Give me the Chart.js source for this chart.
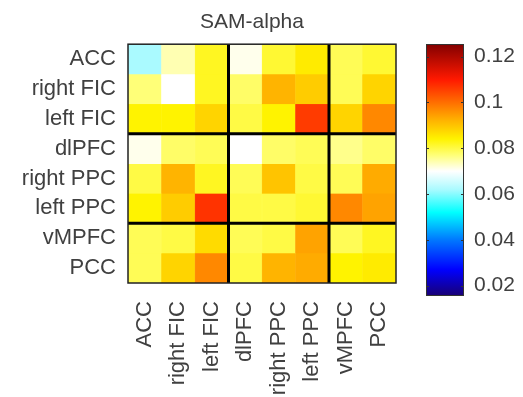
<!DOCTYPE html>
<html>
<head>
<meta charset="utf-8">
<script src="https://cdn.jsdelivr.net/npm/chart.js@4"></script>
<style>
  html, body { margin: 0; padding: 0; background: #fff; }
  #wrap { position: relative; width: 523px; height: 397px; overflow: hidden; }
  #matrixCanvas { position: absolute; left: 0; top: 0; }
  #barCanvas { position: absolute; left: 0; top: 0; }
</style>
</head>
<body>
<div id="wrap">
  <canvas id="matrixCanvas" width="504" height="397"></canvas>
  <canvas id="barCanvas" width="523" height="397"></canvas>
</div>
<script>
// Regions, same order on both axes
const regions = ['ACC', 'right FIC', 'left FIC', 'dlPFC', 'right PPC', 'left PPC', 'vMPFC', 'PCC'];

// SAM-alpha values, one row per region
const samAlpha = [
  [0.062, 0.074, 0.082, 0.071, 0.081, 0.085, 0.079, 0.081],
  [0.077, 0.070, 0.082, 0.078, 0.092, 0.089, 0.079, 0.088],
  [0.084, 0.084, 0.088, 0.080, 0.084, 0.106, 0.088, 0.097],
  [0.071, 0.078, 0.079, 0.070, 0.078, 0.079, 0.076, 0.078],
  [0.080, 0.092, 0.082, 0.079, 0.090, 0.080, 0.079, 0.093],
  [0.084, 0.089, 0.107, 0.080, 0.080, 0.081, 0.097, 0.094],
  [0.079, 0.080, 0.087, 0.079, 0.080, 0.094, 0.079, 0.082],
  [0.079, 0.088, 0.097, 0.080, 0.092, 0.093, 0.084, 0.085],
];

// network boundaries (after these many regions)
const groupEdges = [3, 6];

// colour scale
const colorRange = [0.0155, 0.1255];
const cbTicks = [0.02, 0.04, 0.06, 0.08, 0.1, 0.12];
const cbLabels = ['0.02', '0.04', '0.06', '0.08', '0.1', '0.12'];
const cmapStops = [
  [0.0155, [25, 0, 115]],
  [0.027, [0, 0, 255]],
  [0.040, [0, 120, 255]],
  [0.052, [0, 255, 255]],
  [0.062, [170, 250, 255]],
  [0.070, [255, 255, 255]],
  [0.077, [255, 255, 120]],
  [0.084, [255, 243, 0]],
  [0.092, [255, 180, 0]],
  [0.100, [255, 110, 0]],
  [0.110, [255, 25, 0]],
  [0.1255, [130, 0, 0]],
];

const FONT = "'Liberation Sans', Arial, sans-serif";
const TEXT = '#404040';

function cmap(v) {
  if (v <= cmapStops[0][0]) return rgb(cmapStops[0][1]);
  for (let i = 1; i < cmapStops.length; i++) {
    const [v1, c1] = cmapStops[i];
    if (v <= v1) {
      const [v0, c0] = cmapStops[i - 1];
      const t = (v - v0) / (v1 - v0);
      return rgb(c0.map((c, k) => c + (c1[k] - c) * t));
    }
  }
  return rgb(cmapStops[cmapStops.length - 1][1]);
}
function rgb(c) {
  return `rgb(${c.map(Math.round).join(',')})`;
}

// thick lines between networks + frame
const framePlugin = {
  id: 'frame',
  afterDatasetsDraw(chart) {
    const { ctx, chartArea: a, scales } = chart;
    ctx.save();
    ctx.strokeStyle = '#000';
    ctx.lineWidth = 3;
    groupEdges.forEach((e) => {
      const x = (scales.x.getPixelForValue(e - 1) + scales.x.getPixelForValue(e)) / 2;
      const y = scales.y.getPixelForValue(e - 0.5);
      ctx.beginPath();
      ctx.moveTo(x, a.top);
      ctx.lineTo(x, a.bottom);
      ctx.moveTo(a.left, y);
      ctx.lineTo(a.right, y);
      ctx.stroke();
    });
    ctx.lineWidth = 1.5;
    ctx.strokeStyle = '#222';
    ctx.strokeRect(a.left, a.top, a.right - a.left, a.bottom - a.top);
    ctx.restore();
  },
};

new Chart(document.getElementById('matrixCanvas'), {
  type: 'bar',
  data: {
    labels: regions,
    datasets: samAlpha.map((row, r) => ({
      label: regions[r],
      data: row.map(() => [r - 0.5, r + 0.5]),
      backgroundColor: row.map(cmap),
      borderColor: row.map(cmap),
      borderWidth: 0.5,
      borderSkipped: false,
      barPercentage: 1,
      categoryPercentage: 1,
    })),
  },
  options: {
    responsive: false,
    animation: false,
    events: [],
    layout: { padding: 0 },
    plugins: {
      legend: { display: false },
      tooltip: { enabled: false },
      title: {
        display: true,
        text: 'SAM-alpha',
        color: TEXT,
        font: { family: FONT, size: 21, weight: 'normal', lineHeight: 1.2 },
        padding: { top: 10, bottom: 9 },
      },
    },
    scales: {
      x: {
        stacked: true,
        offset: true,
        grid: { display: false },
        border: { display: false },
        ticks: {
          color: TEXT,
          font: { family: FONT, size: 22 },
          minRotation: 90,
          maxRotation: 90,
          autoSkip: false,
          padding: 10,
        },
        afterFit: (s) => { s.height = 114; },
      },
      y: {
        type: 'linear',
        reverse: true,
        min: -0.5,
        max: regions.length - 0.5,
        grid: { display: false },
        border: { display: false },
        afterBuildTicks: (s) => { s.ticks = regions.map((_, i) => ({ value: i })); },
        ticks: {
          color: TEXT,
          font: { family: FONT, size: 22 },
          padding: 4,
          callback: (v) => regions[v],
        },
        afterFit: (s) => { s.width = 128; },
      },
      // empty axis that keeps room for the colour bar
      spacer: {
        type: 'linear',
        position: 'right',
        grid: { display: false },
        border: { display: false },
        ticks: { display: false },
        afterFit: (s) => { s.width = 108; },
      },
    },
  },
  plugins: [framePlugin],
});

// colour bar
const barFrame = {
  id: 'barFrame',
  afterDatasetsDraw(chart) {
    const { ctx, chartArea: a, scales } = chart;
    ctx.save();
    ctx.strokeStyle = '#333';
    ctx.lineWidth = 1;
    ctx.strokeRect(a.left + 0.5, a.top + 0.5, a.right - a.left - 1, a.bottom - a.top - 1);
    cbTicks.forEach((t) => {
      const y = Math.round(scales.y.getPixelForValue(t)) + 0.5;
      ctx.beginPath();
      ctx.moveTo(a.left, y);
      ctx.lineTo(a.left + 3, y);
      ctx.moveTo(a.right - 3, y);
      ctx.lineTo(a.right, y);
      ctx.stroke();
    });
    ctx.restore();
  },
};

new Chart(document.getElementById('barCanvas'), {
  type: 'bar',
  data: {
    labels: [''],
    datasets: [{
      data: [colorRange],
      barPercentage: 1,
      categoryPercentage: 1,
      borderWidth: 0,
      backgroundColor: (c) => {
        const { chart } = c;
        const y = chart.scales.y;
        if (!y || !chart.chartArea) return '#fff';
        const top = y.getPixelForValue(colorRange[1]);
        const bot = y.getPixelForValue(colorRange[0]);
        const g = chart.ctx.createLinearGradient(0, bot, 0, top);
        cmapStops.forEach(([v, col]) => {
          g.addColorStop((v - colorRange[0]) / (colorRange[1] - colorRange[0]), rgb(col));
        });
        return g;
      },
    }],
  },
  options: {
    responsive: false,
    animation: false,
    events: [],
    layout: { padding: { left: 426, right: 0, top: 44, bottom: 101 } },
    plugins: { legend: { display: false }, tooltip: { enabled: false } },
    scales: {
      x: { display: false, offset: true },
      y: {
        position: 'right',
        min: colorRange[0],
        max: colorRange[1],
        grid: { display: false },
        border: { display: false },
        afterBuildTicks: (s) => { s.ticks = cbTicks.map((v) => ({ value: v })); },
        ticks: {
          color: TEXT,
          font: { family: FONT, size: 21 },
          padding: 2,
          callback: (v) => cbLabels[cbTicks.indexOf(v)],
        },
        afterFit: (s) => { s.width = 59; },
      },
    },
  },
  plugins: [barFrame],
});
</script>
</body>
</html>
